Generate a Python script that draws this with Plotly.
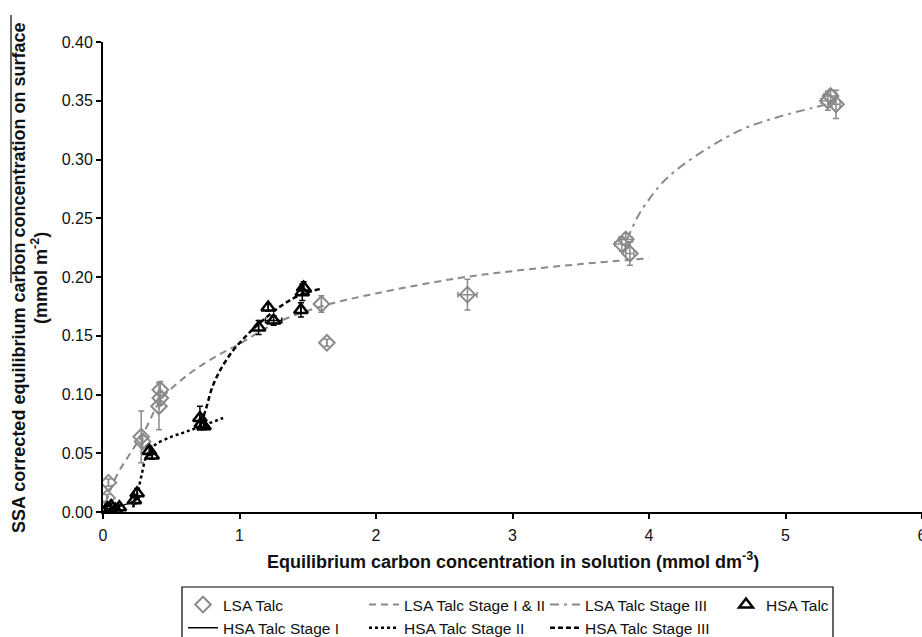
import plotly.graph_objects as go

# ---- data ----
lsa_x = [0.03, 0.04, 0.28, 0.29, 0.41, 0.42, 0.42, 1.60, 1.64, 2.67, 3.80, 3.83, 3.86, 5.31, 5.33, 5.37]
lsa_y = [0.012, 0.025, 0.064, 0.060, 0.090, 0.097, 0.104, 0.177, 0.144, 0.185, 0.228, 0.232, 0.220, 0.350, 0.354, 0.347]
lsa_yerr = [0.003, 0.003, 0.022, 0.005, 0.020, 0.006, 0.007, 0.007, 0.003, 0.013, 0.006, 0.005, 0.010, 0.008, 0.005, 0.012]
lsa_xerr = [0, 0, 0, 0, 0, 0, 0, 0, 0, 0.07, 0.05, 0.05, 0.03, 0.05, 0.05, 0.03]

hsa_x = [0.03, 0.06, 0.09, 0.12, 0.23, 0.25, 0.34, 0.36, 0.71, 0.72, 0.74, 1.14, 1.21, 1.25, 1.45, 1.46, 1.47]
hsa_y = [0.003, 0.005, 0.002, 0.004, 0.010, 0.016, 0.052, 0.048, 0.080, 0.075, 0.073, 0.157, 0.174, 0.163, 0.172, 0.187, 0.191]
hsa_yerr = [0.002, 0.002, 0.002, 0.002, 0.003, 0.004, 0.004, 0.003, 0.010, 0.004, 0.003, 0.006, 0.003, 0.004, 0.006, 0.007, 0.005]
hsa_xerr = [0, 0, 0, 0, 0, 0, 0, 0, 0, 0, 0, 0, 0, 0.06, 0, 0, 0]

lsa12_x = [0.02, 0.10, 0.20, 0.30, 0.42, 0.52, 0.66, 0.85, 1.00, 1.25, 1.60, 2.00, 2.60, 3.00, 3.50, 4.00]
lsa12_y = [0.008, 0.031, 0.050, 0.068, 0.095, 0.107, 0.120, 0.134, 0.143, 0.160, 0.175, 0.186, 0.199, 0.205, 0.211, 0.216]

lsa3_x = [3.84, 3.92, 4.00, 4.08, 4.20, 4.45, 4.69, 4.94, 5.20, 5.30]
lsa3_y = [0.232, 0.252, 0.266, 0.278, 0.291, 0.311, 0.326, 0.336, 0.344, 0.347]

hsa1_x = [0.02, 0.10, 0.20, 0.26]
hsa1_y = [0.001, 0.004, 0.008, 0.012]

hsa2_x = [0.22, 0.25, 0.28, 0.32, 0.38, 0.50, 0.60, 0.72, 0.88]
hsa2_y = [0.004, 0.015, 0.030, 0.048, 0.057, 0.064, 0.068, 0.073, 0.080]

hsa3_x = [0.72, 0.76, 0.80, 0.86, 0.95, 1.05, 1.15, 1.30, 1.45, 1.60]
hsa3_y = [0.075, 0.090, 0.106, 0.121, 0.137, 0.150, 0.161, 0.175, 0.185, 0.190]

x_ticks = [0, 1, 2, 3, 4, 5, 6]
y_ticks = [0.00, 0.05, 0.10, 0.15, 0.20, 0.25, 0.30, 0.35, 0.40]

GREY = "#8a8a8a"
FONT = "Arial, Liberation Sans, sans-serif"

# pixel -> paper helpers (plot area: x 103..922, y 42..512)
def px(xp):
    return (xp - 103) / 819

def py(yp):
    return (512 - yp) / 470

fig = go.Figure()

fig.add_trace(go.Scatter(
    x=lsa_x, y=lsa_y, mode="markers", name="LSA Talc",
    marker=dict(symbol="diamond-open", size=12, color=GREY, line=dict(width=2, color=GREY)),
    error_y=dict(type="data", array=lsa_yerr, color=GREY, thickness=1.5, width=3),
    error_x=dict(type="data", array=lsa_xerr, color=GREY, thickness=1.5, width=3),
))
fig.add_trace(go.Scatter(
    x=lsa12_x, y=lsa12_y, mode="lines", name="LSA Talc Stage I & II",
    line=dict(color=GREY, width=2, dash="7px,5px", shape="spline"),
))
fig.add_trace(go.Scatter(
    x=lsa3_x, y=lsa3_y, mode="lines", name="LSA Talc Stage III",
    line=dict(color=GREY, width=2, dash="9px,5px,3px,5px", shape="spline"),
))
fig.add_trace(go.Scatter(
    x=hsa_x, y=hsa_y, mode="markers", name="HSA Talc",
    marker=dict(symbol="triangle-up-open", size=12, color="black", line=dict(width=2.5, color="black")),
    error_y=dict(type="data", array=hsa_yerr, color="black", thickness=1.5, width=3),
    error_x=dict(type="data", array=hsa_xerr, color="black", thickness=1.5, width=3),
))
fig.add_trace(go.Scatter(
    x=hsa1_x, y=hsa1_y, mode="lines", name="HSA Talc Stage I",
    line=dict(color="black", width=1.5, shape="spline"),
))
fig.add_trace(go.Scatter(
    x=hsa2_x, y=hsa2_y, mode="lines", name="HSA Talc Stage II",
    line=dict(color="black", width=2.5, dash="dot", shape="spline"),
))
fig.add_trace(go.Scatter(
    x=hsa3_x, y=hsa3_y, mode="lines", name="HSA Talc Stage III",
    line=dict(color="black", width=2.5, dash="5px,3px", shape="spline"),
))

fig.update_layout(
    width=922, height=637,
    margin=dict(l=103, r=0, t=42, b=125, autoexpand=False),
    paper_bgcolor="white", plot_bgcolor="white",
    font=dict(family=FONT, color="#111"),
    showlegend=True,
    legend=dict(
        orientation="h", x=px(183), xanchor="left",
        y=py(588), yanchor="top",
        entrywidth=136, entrywidthmode="pixels",
        font=dict(size=15.5, family=FONT, color="#111"),
        bgcolor="rgba(0,0,0,0)", borderwidth=0,
        traceorder="normal",
    ),
    xaxis=dict(
        range=[0, 6], tickvals=x_ticks, ticktext=[str(v) for v in x_ticks],
        showgrid=False, zeroline=False, showline=True, linecolor="black", linewidth=2,
        ticks="outside", ticklen=5, tickwidth=1.5, tickcolor="black",
        ticklabelstandoff=3, ticklabeloverflow="allow", automargin=False,
        tickfont=dict(size=16, family=FONT, color="#111"),
    ),
    yaxis=dict(
        range=[0, 0.4], tickvals=y_ticks, tickformat=".2f",
        showgrid=False, zeroline=False, showline=True, linecolor="black", linewidth=2,
        ticks="outside", ticklen=5, tickwidth=1.5, tickcolor="black",
        automargin=False,
        tickfont=dict(size=16, family=FONT, color="#111"),
    ),
    annotations=[
        dict(text="<b>Equilibrium carbon concentration in solution (mmol dm<sup>-3</sup>)</b>",
             xref="paper", yref="paper", x=0.5, y=py(560),
             xanchor="center", yanchor="middle", showarrow=False,
             font=dict(size=18, family=FONT, color="#111")),
        dict(text="<b>SSA corrected equilibrium carbon concentration on surface</b>",
             xref="paper", yref="paper", x=px(19), y=py(278), textangle=-90,
             xanchor="center", yanchor="middle", showarrow=False,
             font=dict(size=18, family=FONT, color="#111")),
        dict(text="<b>(mmol m<sup>-2</sup>)</b>",
             xref="paper", yref="paper", x=px(39), y=py(278), textangle=-90,
             xanchor="center", yanchor="middle", showarrow=False,
             font=dict(size=18, family=FONT, color="#111")),
    ],
    shapes=[
        dict(type="rect", xref="paper", yref="paper",
             x0=px(182), x1=px(833), y0=py(680), y1=py(587),
             line=dict(color="black", width=1.2), fillcolor="rgba(0,0,0,0)"),
        dict(type="line", xref="paper", yref="paper",
             x0=px(11), x1=px(11), y0=py(283), y1=py(15),
             line=dict(color="black", width=1.2)),
    ],
)

fig.write_html("out.html")
